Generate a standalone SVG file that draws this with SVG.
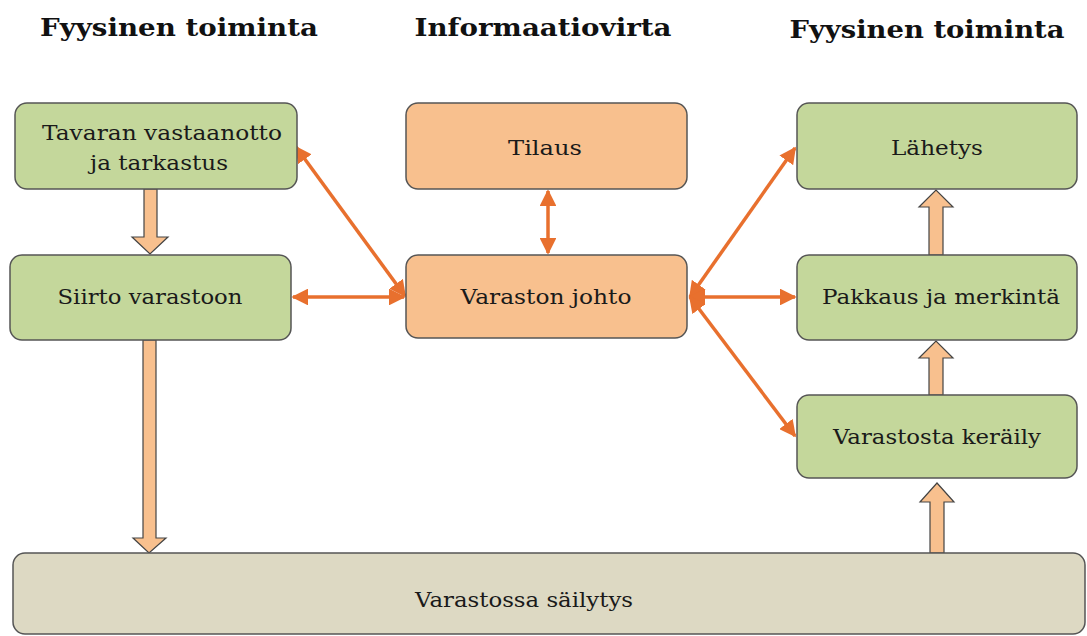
<svg xmlns="http://www.w3.org/2000/svg" width="1087" height="636" viewBox="0 0 1087 636">
<style>
.title{font-family:"DejaVu Serif","Liberation Serif",serif;font-weight:bold;font-size:25px;fill:#111;text-anchor:middle}
.lbl{font-family:"DejaVu Serif","Liberation Serif",serif;font-size:21px;fill:#1a1a1a;text-anchor:middle;dominant-baseline:central}
.green{fill:#c4d79b;stroke:#555;stroke-width:1.5}
.orange{fill:#f8c08e;stroke:#555;stroke-width:1.5}
.store{fill:#ddd9c3;stroke:#555;stroke-width:1.5}
.block{fill:#f8c08e;stroke:#444;stroke-width:1.2}
.conn{stroke:#e8702e;stroke-width:3.5;fill:none;marker-start:url(#ah);marker-end:url(#ah)}
</style>
<defs>
<marker id="ah" viewBox="0 0 10 10" refX="9" refY="5" markerWidth="4.8" markerHeight="4.8" orient="auto-start-reverse" markerUnits="strokeWidth">
<path d="M0,0 L10,5 L0,10 Z" fill="#e8702e"/>
</marker>
</defs>
<rect width="1087" height="636" fill="#fff"/>
<g id="titles">
<text class="title" x="179" y="36" textLength="278" lengthAdjust="spacingAndGlyphs">Fyysinen toiminta</text>
<text class="title" x="543" y="36" textLength="257" lengthAdjust="spacingAndGlyphs">Informaatiovirta</text>
<text class="title" x="927" y="38" textLength="275" lengthAdjust="spacingAndGlyphs">Fyysinen toiminta</text>
</g>
<g id="connectors">
<line class="conn" x1="548" y1="191" x2="548" y2="253"/>
<line class="conn" x1="296" y1="147" x2="405" y2="296"/>
<line class="conn" x1="293" y1="297" x2="404" y2="297"/>
<line class="conn" x1="690" y1="297" x2="795" y2="148"/>
<line class="conn" x1="690" y1="297" x2="795" y2="297"/>
<line class="conn" x1="690" y1="297" x2="795" y2="436"/>
<path class="block" d="M144,189 L157,189 L157,237 L168,237 L150,254 L132,237 L144,237 Z"/>
<path class="block" d="M143,340 L156,340 L156,538 L166,538 L149,553 L133,538 L143,538 Z"/>
<path class="block" d="M930,553 L944,553 L944,502 L954,502 L937,483 L920,502 L930,502 Z"/>
<path class="block" d="M929,395 L943,395 L943,358 L953,358 L936,341 L919,358 L929,358 Z"/>
<path class="block" d="M929,255 L943,255 L943,207 L953,207 L936,190 L919,207 L929,207 Z"/>
</g>
<g id="node-tavaran">
<rect class="green" x="15" y="103" width="282" height="86" rx="12"/>
<text class="lbl" x="162" y="133" textLength="240" lengthAdjust="spacingAndGlyphs">Tavaran vastaanotto</text>
<text class="lbl" x="159" y="163" textLength="138" lengthAdjust="spacingAndGlyphs">ja tarkastus</text>
</g>
<g id="node-siirto">
<rect class="green" x="10" y="255" width="281" height="85" rx="12"/>
<text class="lbl" x="150" y="297" textLength="185" lengthAdjust="spacingAndGlyphs">Siirto varastoon</text>
</g>
<g id="node-tilaus">
<rect class="orange" x="406" y="103" width="281" height="86" rx="12"/>
<text class="lbl" x="545" y="148" textLength="74" lengthAdjust="spacingAndGlyphs">Tilaus</text>
</g>
<g id="node-johto">
<rect class="orange" x="406" y="255" width="281" height="83" rx="12"/>
<text class="lbl" x="546" y="297" textLength="171" lengthAdjust="spacingAndGlyphs">Varaston johto</text>
</g>
<g id="node-lahetys">
<rect class="green" x="797" y="103" width="280" height="86" rx="12"/>
<text class="lbl" x="937" y="148" textLength="92" lengthAdjust="spacingAndGlyphs">Lähetys</text>
</g>
<g id="node-pakkaus">
<rect class="green" x="797" y="255" width="280" height="85" rx="12"/>
<text class="lbl" x="941" y="297" textLength="238" lengthAdjust="spacingAndGlyphs">Pakkaus ja merkintä</text>
</g>
<g id="node-keraily">
<rect class="green" x="797" y="395" width="280" height="83" rx="12"/>
<text class="lbl" x="937" y="437" textLength="208" lengthAdjust="spacingAndGlyphs">Varastosta keräily</text>
</g>
<g id="node-sailytys">
<rect class="store" x="13" y="553" width="1072" height="81" rx="12"/>
<text class="lbl" x="524" y="600" textLength="218" lengthAdjust="spacingAndGlyphs">Varastossa säilytys</text>
</g>
</svg>
